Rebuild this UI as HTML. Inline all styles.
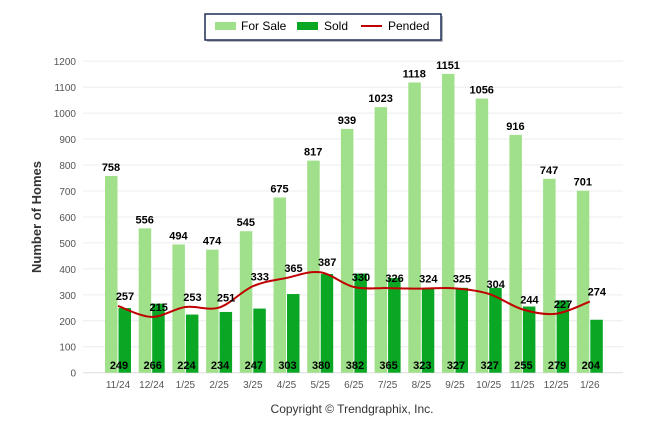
<!DOCTYPE html>
<html><head><meta charset="utf-8"><style>
body{margin:0;background:#fff;}
svg text{font-family:"Liberation Sans",Arial,sans-serif;}
</style></head><body>
<svg id="chart" width="646" height="434" xmlns="http://www.w3.org/2000/svg">
<g>
<rect x="207" y="16" width="236" height="26" fill="#bbb"/>
<rect x="205" y="14" width="236" height="26" fill="#fff" stroke="#1c2e56" stroke-width="1.5"/>
<rect x="215" y="22" width="21" height="8" fill="#a0e08a"/>
<text x="241" y="30" font-size="12" fill="#000">For Sale</text>
<rect x="297" y="22" width="21" height="8" fill="#0aa724"/>
<text x="324" y="30" font-size="12" fill="#000">Sold</text>
<line x1="361" y1="26" x2="382" y2="26" stroke="#c00000" stroke-width="2"/>
<text x="388" y="30" font-size="12" fill="#000">Pended</text>
</g>
<text transform="translate(41,217) rotate(-90)" text-anchor="middle" font-size="13" font-weight="bold" fill="#333">Number of Homes</text>
<text x="352" y="413" text-anchor="middle" font-size="12" fill="#333">Copyright © Trendgraphix, Inc.</text>
<g id="grid"></g><g id="bars"></g><g id="line"></g><g id="labels"></g>
</svg>
<script>
const categories=["11/24","12/24","1/25","2/25","3/25","4/25","5/25","6/25","7/25","8/25","9/25","10/25","11/25","12/25","1/26"];
const forSale=[758,556,494,474,545,675,817,939,1023,1118,1151,1056,916,747,701];
const sold=[249,266,224,234,247,303,380,382,365,323,327,327,255,279,204];
const pended=[257,215,253,251,333,365,387,330,326,324,325,304,244,227,274];
const yTicks=[0,100,200,300,400,500,600,700,800,900,1000,1100,1200];
const NS="http://www.w3.org/2000/svg";
const y=v=>372.7-v*0.2596;
const x=i=>118+i*33.7;
function mk(tag,attrs,parent,txt){const e=document.createElementNS(NS,tag);for(const k in attrs)e.setAttribute(k,attrs[k]);if(txt!==undefined)e.textContent=txt;document.getElementById(parent).appendChild(e);return e;}
yTicks.forEach(t=>{
 const l=mk('line',{x1:83,x2:623,y1:y(t),y2:y(t),stroke:t===0?'#ddd':'#ececec','stroke-width':1},'grid');
 
 
 const tx=mk('text',{x:76,y:y(t)+4,'text-anchor':'end','font-size':10,fill:'#555'},'grid',t);
 
 
});
categories.forEach((c,i)=>{
 const tk=mk('text',{x:x(i),y:388,'text-anchor':'middle','font-size':10,fill:'#555'},'labels',c);
 
 
 const b1=mk('rect',{x:x(i)-13,y:y(forSale[i]),width:12.5,height:y(0)-y(forSale[i]),fill:'#a0e08a'},'bars');
 
 
 const b2=mk('rect',{x:x(i)+0.5,y:y(sold[i]),width:12.5,height:y(0)-y(sold[i]),fill:'#0aa724'},'bars');
 
 
 const l1=mk('text',{x:x(i)-7,y:y(forSale[i])-5,'text-anchor':'middle','font-size':11,'font-weight':'bold',fill:'#000'},'labels',forSale[i]);
 
 
 const l2=mk('text',{x:x(i)+1,y:369,'text-anchor':'middle','font-size':11,'font-weight':'bold',fill:'#000'},'labels',sold[i]);
 
 
 const l3=mk('text',{x:x(i)+7,y:y(pended[i])-6,'text-anchor':'middle','font-size':11,'font-weight':'bold',fill:'#000'},'labels',pended[i]);
 
 
});
let d='';const P=pended.map((v,i)=>[x(i),y(v)]);
P.forEach((p,i)=>{if(i===0){d+=`M${p[0]},${p[1]}`;return;}
 const p0=P[Math.max(i-2,0)],p1=P[i-1],p3=P[Math.min(i+1,P.length-1)],t=6;
 d+=` C${p1[0]+(p[0]-p0[0])/t},${p1[1]+(p[1]-p0[1])/t} ${p[0]-(p3[0]-p1[0])/t},${p[1]-(p3[1]-p1[1])/t} ${p[0]},${p[1]}`;});
const pl=mk('path',{d:d,fill:'none',stroke:'#c00000','stroke-width':2},'line');


</script>
</body></html>
